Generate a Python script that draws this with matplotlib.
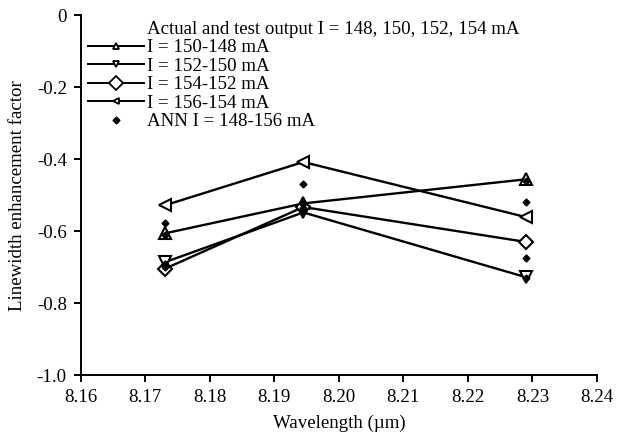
import matplotlib

matplotlib.use("Agg")
import matplotlib.pyplot as plt
from matplotlib.lines import Line2D

# wavelengths (um) of the three measured points
wavelength = [8.1731, 8.1945, 8.2290]

# actual/test linewidth enhancement factor per current step
alpha_150_148 = [-0.606, -0.523, -0.456]
alpha_152_150 = [-0.686, -0.548, -0.728]
alpha_154_152 = [-0.704, -0.533, -0.630]
alpha_156_154 = [-0.528, -0.408, -0.561]

# ANN predictions (four per wavelength)
ann_x = [8.1731] * 4 + [8.1945] * 4 + [8.2290] * 4
ann_y = [-0.578, -0.612, -0.690, -0.700,
         -0.469, -0.525, -0.535, -0.545,
         -0.460, -0.519, -0.675, -0.730]

x_ticks = [8.16, 8.17, 8.18, 8.19, 8.20, 8.21, 8.22, 8.23, 8.24]
y_ticks = [0, -0.2, -0.4, -0.6, -0.8, -1.0]
y_tick_labels = ["0", "-0.2", "-0.4", "-0.6", "-0.8", "-1.0"]

plt.rcParams.update({
    "font.family": ["Liberation Serif", "DejaVu Serif"],
    "font.size": 13.6,
    "axes.linewidth": 1.4,
    "xtick.major.width": 1.4,
    "ytick.major.width": 1.4,
    "xtick.major.size": 5,
    "ytick.major.size": 5,
})

fig = plt.figure(figsize=(6.18, 4.44), dpi=100)
ax = fig.add_axes([0.1305, 0.155, 0.8355, 0.811])

# (values, marker, plot size, legend size, label)
series = [
    (alpha_150_148, "^", 9, 5, "I = 150-148 mA"),
    (alpha_152_150, "v", 9, 5, "I = 152-150 mA"),
    (alpha_154_152, "D", 7.5, 7, "I = 154-152 mA"),
    (alpha_156_154, "<", 9, 5, "I = 156-154 mA"),
]
handles = [Line2D([], [], linestyle="none", marker="none")]
labels = ["Actual and test output I = 148, 150, 152, 154 mA"]
for vals, mk, ms, lms, lab in series:
    ax.plot(wavelength, vals, color="black", linewidth=1.7, marker=mk,
            markersize=ms, markerfacecolor="white", markeredgecolor="black",
            markeredgewidth=1.5)
    handles.append(Line2D([], [], color="black", linewidth=1.4, marker=mk,
                          markersize=lms, markerfacecolor="white",
                          markeredgecolor="black", markeredgewidth=1.3))
    labels.append(lab)
ax.plot(ann_x, ann_y, linestyle="none", marker="D", markersize=3.5,
        color="black")
handles.append(Line2D([], [], linestyle="none", marker="D", markersize=3.5,
                      color="black"))
labels.append("ANN I = 148-156 mA")

ax.set_xlim(8.16, 8.24)
ax.set_ylim(-1.0, 0)
ax.set_xticks(x_ticks)
ax.set_xticklabels([f"{v:.2f}" for v in x_ticks])
ax.set_yticks(y_ticks)
ax.set_yticklabels(y_tick_labels)
ax.tick_params(direction="out", pad=5)
for spine in ("top", "right"):
    ax.spines[spine].set_visible(False)

ax.set_xlabel("Wavelength (\u00b5m)", labelpad=6)
ax.set_ylabel("Linewidth enhancement factor", labelpad=8)

ax.legend(handles, labels, loc="upper left", bbox_to_anchor=(0.014, 0.985),
          frameon=False, handlelength=2.95, handletextpad=0.2,
          labelspacing=0.07, borderpad=0, borderaxespad=0)

fig.savefig("out.png", dpi=100)
